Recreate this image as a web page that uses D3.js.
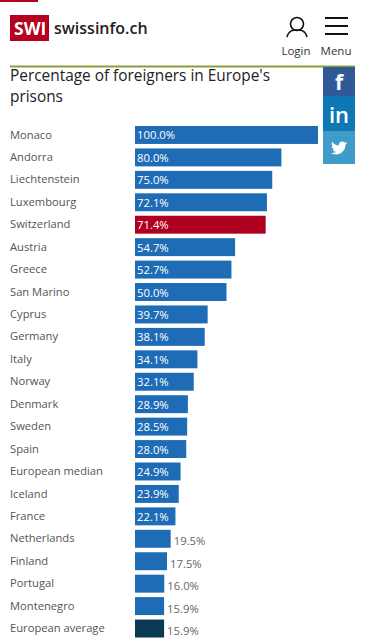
<!DOCTYPE html>
<html>
<head>
<meta charset="utf-8">
<script src="https://cdn.jsdelivr.net/npm/d3@7"></script>
<style>
html,body{margin:0;padding:0;background:#fff;overflow:hidden}
text{font-family:"Open Sans","Noto Sans",sans-serif}
</style>
</head>
<body>
<svg id="chart"></svg>
<script>
//chart data
var countries = ["Monaco","Andorra","Liechtenstein","Luxembourg","Switzerland","Austria","Greece","San Marino","Cyprus","Germany","Italy","Norway","Denmark","Sweden","Spain","European median","Iceland","France","Netherlands","Finland","Portugal","Montenegro","European average"];
var shares = [100,80,75,72.1,71.4,54.7,52.7,50,39.7,38.1,34.1,32.1,28.9,28.5,28,24.9,23.9,22.1,19.5,17.5,16,15.9,15.9];
var titleLines = ["Percentage of foreigners in Europe's","prisons"];

var screen = {width:365,height:640}
var margins = {left:135,right:47,top:126,bottom:2.5}
var insideLimit = 20; //smaller bars get their label outside

var svg = d3.select("#chart")
    .attr("width",screen.width)
    .attr("height",screen.height)

var drawHeader = function()
{
    var head = svg.append("g")
    head.append("rect").attr("x",0).attr("y",0).attr("width",38).attr("height",2).attr("fill","#b5001e")
    head.append("rect").attr("x",10).attr("y",15).attr("width",39).attr("height",26).attr("fill","#b5001e")
    head.append("text").text("SWI")
        .attr("x",14).attr("y",35)
        .attr("fill","#fff").attr("font-size",17.5).attr("font-weight",700)
    head.append("text").text("swissinfo.ch")
        .attr("x",54).attr("y",34)
        .attr("fill","#222").attr("font-size",16).attr("font-weight",600)

    //login icon
    head.append("circle").attr("cx",297).attr("cy",24).attr("r",6.5)
        .attr("fill","none").attr("stroke","#111").attr("stroke-width",1.6)
    head.append("path").attr("d","M287 37 C289 30,293 30,297 30 C301 30,305 30,307 37")
        .attr("fill","none").attr("stroke","#111").attr("stroke-width",1.6)
    head.append("text").text("Login")
        .attr("x",296).attr("y",55).attr("text-anchor","middle")
        .attr("fill","#333").attr("font-size",11.5)

    //menu icon
    head.selectAll(".bar-line").data([18,26,34]).enter().append("rect")
        .attr("x",325).attr("y",function(d){return d-1}).attr("width",23).attr("height",2)
        .attr("fill","#111")
    head.append("text").text("Menu")
        .attr("x",336).attr("y",55).attr("text-anchor","middle")
        .attr("fill","#333").attr("font-size",11.5)

    head.append("rect").attr("x",10).attr("y",65.5).attr("width",345).attr("height",2).attr("fill","#8c9e3c")

    head.selectAll(".title").data(titleLines).enter().append("text")
        .text(function(d){return d})
        .attr("x",10).attr("y",function(d,i){return 80.5+i*21})
        .attr("fill","#222").attr("font-size",15.4)
}

var drawSocial = function()
{
    var social = svg.append("g")
    social.append("rect").attr("x",323).attr("y",67).attr("width",32).attr("height",29).attr("fill","#2f5a97")
    social.append("rect").attr("x",323).attr("y",96).attr("width",32).attr("height",35).attr("fill","#1077b5")
    social.append("rect").attr("x",323).attr("y",131).attr("width",32).attr("height",33).attr("fill","#3f9cc9")
    social.append("text").text("f")
        .attr("x",339).attr("y",90).attr("text-anchor","middle")
        .attr("fill","#fff").attr("font-size",21).attr("font-weight",700)
    social.append("text").text("in")
        .attr("x",339).attr("y",123).attr("text-anchor","middle")
        .attr("fill","#fff").attr("font-size",22).attr("font-weight",600)
    social.append("path")
        .attr("transform","translate(331,140) scale(0.67)")
        .attr("d","M24 4.6c-.9.4-1.8.7-2.8.8 1-.6 1.8-1.6 2.2-2.7-1 .6-2 1-3.1 1.2C19.3 2.8 18 2.2 16.6 2.2c-2.7 0-4.9 2.2-4.9 4.9 0 .4 0 .8.1 1.1C7.7 8 4.1 6 1.7 3c-.4.7-.7 1.6-.7 2.5 0 1.7.9 3.2 2.2 4.1-.8 0-1.6-.2-2.2-.6v.1c0 2.4 1.7 4.4 3.9 4.8-.4.1-.8.2-1.3.2-.3 0-.6 0-.9-.1.6 2 2.4 3.4 4.6 3.4-1.7 1.3-3.8 2.1-6.1 2.1-.4 0-.8 0-1.2-.1 2.2 1.4 4.8 2.2 7.5 2.2 9.1 0 14-7.5 14-14v-.6c1-.7 1.8-1.6 2.5-2.5z")
        .attr("fill","#fff")
}

var drawBars = function()
{
    var xScale = d3.scaleLinear()
        .domain([0,100])
        .range([margins.left,screen.width-margins.right])

    var yScale = d3.scaleBand()
        .domain(countries)
        .range([margins.top,screen.height-margins.bottom])
        .paddingInner(.2)

    var rows = d3.zip(countries,shares)

    var color = function(name)
    {
        if(name=="Switzerland"){return "#b0001f"}
        if(name=="European average"){return "#0b3a55"}
        return "#1f6cb6"
    }

    var axis = d3.axisLeft(yScale).tickSize(0).tickPadding(0)
    svg.append("g")
        .attr("transform","translate(10,0)")
        .call(axis)
        .call(function(g){g.select(".domain").remove()})
        .selectAll("text")
        .attr("text-anchor","start")
        .attr("dy","0.32em")
        .attr("fill","#555")
        .attr("font-size",11.2)
        .style("font-family",'"Open Sans","Noto Sans",sans-serif')

    svg.selectAll(".bar").data(rows).enter().append("rect")
        .attr("class","bar")
        .attr("x",xScale(0))
        .attr("y",function(d){return yScale(d[0])})
        .attr("width",function(d){return xScale(d[1])-xScale(0)})
        .attr("height",yScale.bandwidth())
        .attr("fill",function(d){return color(d[0])})

    svg.selectAll(".value").data(rows).enter().append("text")
        .attr("class","value")
        .text(function(d){return d[1].toFixed(1)+"%"})
        .attr("x",function(d){return d[1]<insideLimit ? xScale(d[1])+3 : xScale(0)+2})
        .attr("y",function(d){return yScale(d[0])+yScale.bandwidth()/2+ (d[1]<insideLimit ? 6.5 : 4.5)})
        .attr("fill",function(d){return d[1]<insideLimit ? "#666" : "#fff"})
        .attr("font-size",11.3)
}

drawHeader();
drawBars();
drawSocial();
</script>
</body>
</html>
